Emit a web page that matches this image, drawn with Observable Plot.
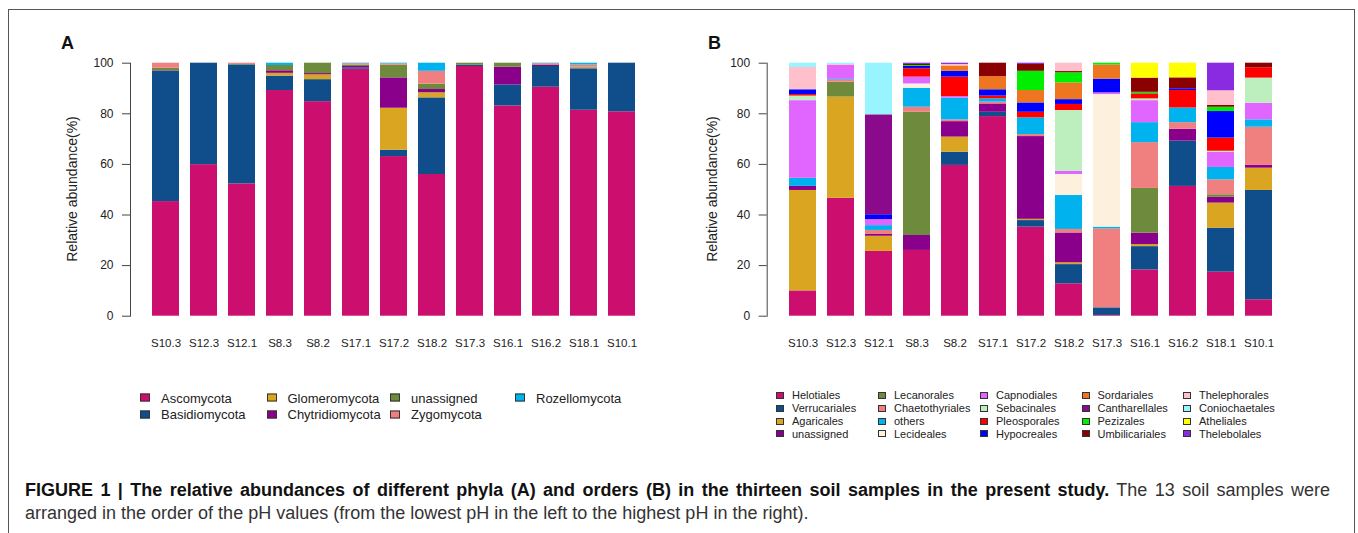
<!DOCTYPE html>
<html><head><meta charset="utf-8">
<script src="https://cdn.jsdelivr.net/npm/d3@7"></script>
<script src="https://cdn.jsdelivr.net/npm/@observablehq/plot@0.6"></script>
<style>
body{margin:0;background:#fff;overflow:hidden;}
#fig{position:relative;width:1358px;height:533px;overflow:hidden;font-family:"Liberation Sans",Arial,sans-serif;color:#222;background:#fff;}
.abs{position:absolute;}
#border{left:8px;top:9px;width:1347px;height:600px;border:1.5px solid #555;box-sizing:border-box;}
.letter{font-weight:bold;font-size:18px;line-height:18px;color:#111;}
.ytitle{font-size:14px;line-height:14px;transform:translate(-50%,-50%) rotate(-90deg);white-space:nowrap;}
.leg{white-space:nowrap;display:flex;align-items:center;transform:translateY(-50%);}
.sw{display:inline-block;border:1px solid #333;box-sizing:border-box;}
.cap{font-size:18px;line-height:18px;white-space:nowrap;left:25px;color:#333;}
.cap b{color:#111;}
.just{width:1305px;text-align:justify;text-align-last:justify;white-space:normal;}
</style></head><body><div id="fig">
<div id="border" class="abs"></div>
<div class="abs letter" style="left:61px;top:34px;">A</div>
<div class="abs letter" style="left:708px;top:34px;">B</div>
<div class="abs ytitle" style="left:72px;top:189px;">Relative abundance(%)</div>
<div class="abs ytitle" style="left:712px;top:189px;">Relative abundance(%)</div>
<div id="pa" class="abs" style="left:0;top:0;"></div>
<div id="pb" class="abs" style="left:640px;top:0;"></div>
<div id="lega"></div>
<div id="legb"></div>
<div class="abs cap just" style="top:481px;"><b>FIGURE 1 | The relative abundances of different phyla (A) and orders (B) in the thirteen soil samples in the present study.</b> The 13 soil samples were</div>
<div class="abs cap" style="top:504px;">arranged in the order of the pH values (from the lowest pH in the left to the highest pH in the right).</div>
</div>
<script>
// ---------- data ----------
const samples = ["S10.3","S12.3","S12.1","S8.3","S8.2","S17.1","S17.2","S18.2","S17.3","S16.1","S16.2","S18.1","S10.1"];
const yTicks = [0, 20, 40, 60, 80, 100];

// Panel A: phyla (%)
const phyla = ["Ascomycota","Basidiomycota","Glomeromycota","Chytridiomycota","unassigned","Zygomycota","Rozellomycota"];
const Ascomycota      = [45.3, 59.9, 52.3, 89.2, 84.8, 97.6, 63.1, 56.0, 98.7, 83.1, 90.5, 81.4, 80.8];
const Basidiomycota   = [51.5, 40.1, 47.0,  5.7,  8.7,  0.6,  2.5, 30.3,  0.5,  8.3,  8.2, 16.4, 19.2];
const Glomeromycota   = [ 0,    0,    0,    1.1,  1.9,  0,   16.6,  2.0,  0,    0,    0,    0.3,  0];
const Chytridiomycota = [ 0.2,  0,    0,    1.0,  0.5,  0.5, 12.0,  1.3,  0,    7.0,  0.5,  0,    0];
const unassignedA     = [ 1.0,  0,    0.2,  2.1,  4.1,  0.6,  5.0,  2.1,  0.8,  1.6,  0.2,  0.3,  0];
const Zygomycota      = [ 2.0,  0,    0.5,  0,    0,    0.5,  0.5,  5.1,  0,    0,    0.4,  0.9,  0];
const Rozellomycota   = [ 0,    0,    0,    0.9,  0,    0.2,  0.3,  3.2,  0,    0,    0.2,  0.7,  0];
const phylaSeries = [Ascomycota, Basidiomycota, Glomeromycota, Chytridiomycota, unassignedA, Zygomycota, Rozellomycota];
const phylaColors = ["#CC0F6E","#104E8B","#DAA520","#8B008B","#6E8B3D","#F08080","#00B2EE"];

// Panel B: orders (%)
const orders = ["Helotiales","Verrucariales","Agaricales","unassigned","Lecanorales","Chaetothyriales","others","Lecideales","Capnodiales","Sebacinales","Pleosporales","Hypocreales","Sordariales","Cantharellales","Pezizales","Umbilicariales","Thelephorales","Coniochaetales","Atheliales","Thelebolales"];
const Helotiales      = [10.0, 46.6, 25.6, 26.0, 59.6, 78.9, 35.2, 12.8,  0.3, 18.3, 51.3, 17.4,  6.5];
const Verrucariales   = [ 0,    0,    0,    0,    5.2,  1.7,  2.6,  7.6,  3.0,  9.2, 17.9, 17.4, 43.2];
const Agaricales      = [39.7, 40.0,  6.0,  0,    6.0,  0,    0.5,  0.7,  0,    0.8,  0,    9.9,  8.8];
const unassignedB     = [ 1.6,  0,    0.7,  5.9,  6.1,  3.3, 32.7, 11.8,  0,    4.5,  4.7,  2.3,  1.1];
const Lecanorales     = [ 0,    5.9,  0,   48.7,  0,    0,    0,    0,    0,   17.7,  0,    1.0,  0];
const Chaetothyriales = [ 0,    0.8,  1.6,  2.0,  0.7,  0.7,  0.8,  1.4, 31.2, 18.1,  2.6,  5.9, 15.1];
const others          = [ 3.2,  0.3,  1.9,  7.5,  8.6,  1.3,  6.6, 13.4,  0.7,  7.9,  5.8,  4.9,  2.9];
const Lecideales      = [ 0,    0,    0,    1.7,  0,    0,    0,    8.3, 52.4,  0,    0,    0,    0];
const Capnodiales     = [30.7,  5.6,  2.4,  2.7,  0.6,  0,    0,    1.3,  0.7,  8.7,  0,    5.9,  6.6];
const Sebacinales     = [ 1.8,  0,    0,    0,    0,    0,    0,   24.0,  0,    0.7,  0,    0.5,  9.9];
const Pleosporales    = [ 0.6,  0,    0,    3.3,  7.7,  1.1,  2.2,  2.4,  0,    2.0,  6.9,  5.2,  4.1];
const Hypocreales     = [ 1.9,  0,    1.9,  0.9,  2.3,  2.5,  3.7,  1.9,  5.4,  0,    0.7, 10.5,  0];
const Sordariales     = [ 0,    0,    0,    0,    2.1,  5.2,  4.9,  6.6,  5.6,  0,    0,    0,    0];
const Cantharellales  = [ 0,    0,   39.5,  0,    0,    0,    0,    0,    0,    0,    0,    0,    0];
const Pezizales       = [ 0,    0,    0,    0.4,  0,    0,    7.6,  4.0,  0.7,  0.6,  0,    1.7,  0];
const Umbilicariales  = [ 0,    0,    0,    0.4,  0,    5.3,  2.7,  0.5,  0,    5.6,  4.3,  0.7,  1.8];
const Thelephorales   = [ 8.8,  0.3,  0,    0,    0.6,  0,    0,    3.3,  0,    0,    0,    5.8,  0];
const Coniochaetales  = [ 1.7,  0.5, 20.4,  0,    0,    0,    0,    0,    0,    0,    0,    0,    0];
const Atheliales      = [ 0,    0,    0,    0,    0,    0,    0,    0,    0,    5.9,  5.8,  0,    0];
const Thelebolales    = [ 0,    0,    0,    0.5,  0.5,  0,    0.5,  0,    0,    0,    0,   10.9,  0];
const orderSeries = [Helotiales, Verrucariales, Agaricales, unassignedB, Lecanorales, Chaetothyriales, others, Lecideales, Capnodiales, Sebacinales, Pleosporales, Hypocreales, Sordariales, Cantharellales, Pezizales, Umbilicariales, Thelephorales, Coniochaetales, Atheliales, Thelebolales];
const orderColors = ["#CC0F6E","#104E8B","#DAA520","#8B008B","#6E8B3D","#F08080","#00B2EE","#FDF0DC","#E066FF","#BDEEBD","#FF0000","#0000FF","#EE7621","#8B0A8B","#00EE00","#8B0000","#FFC0CB","#98F5FF","#FFFF00","#8A2BE2"];

// ---------- drawing ----------
function panel(series, names, colors, o) {
  const data = names.flatMap((n, i) => samples.map((s, j) => ({sample: s, group: n, value: series[i][j]})));
  const H = 370;
  return Plot.plot({
    width: o.width, height: H,
    marginLeft: o.ml, marginRight: 10, marginTop: 62.7, marginBottom: H - 315.7,
    style: {fontFamily: "'Liberation Sans', Arial, sans-serif", fontSize: "12px", color: "#333", background: "transparent", overflow: "visible"},
    x: {domain: samples, range: o.xr, paddingInner: 0.29, paddingOuter: 0, label: null},
    y: {domain: [0, 100], label: null},
    color: {domain: names, range: colors},
    marks: [
      Plot.barY(data, {x: "sample", y: "value", fill: "group", z: "group"}),
      Plot.frame({anchor: "left", stroke: "#444"}),
      Plot.axisY({ticks: yTicks, tickSize: 8, tickPadding: 9, label: null, fontSize: 12, stroke: "#444", fill: "#222"}),
      Plot.axisX({tickSize: 0, tickPadding: 23, label: null, fontSize: 11.5, fill: "#222"})
    ]
  });
}
document.getElementById("pa").append(panel(phylaSeries, phyla, phylaColors, {width: 680, ml: 130, xr: [149.3, 637.7]}));
document.getElementById("pb").append(panel(orderSeries, orders, orderColors, {width: 718, ml: 126.7, xr: [146.7, 635]}));

function legend(containerId, names, colors, o) {
  const c = document.getElementById(containerId);
  names.forEach((n, i) => {
    const col = Math.floor(i / o.rows), row = i % o.rows;
    const d = document.createElement("div");
    d.className = "abs leg";
    d.style.left = o.cols[col] + "px";
    d.style.top = o.rowY[row] + "px";
    d.style.fontSize = o.fs + "px";
    const sw = document.createElement("span");
    sw.className = "sw";
    sw.style.width = o.sw[0] + "px"; sw.style.height = o.sw[1] + "px";
    sw.style.background = colors[i];
    sw.style.marginRight = o.gap + "px";
    d.append(sw, document.createTextNode(n));
    c.append(d);
  });
}
legend("lega", phyla, phylaColors, {rows: 2, cols: [140, 266.5, 390, 515], rowY: [397.5, 414], fs: 13, sw: [10, 8], gap: 11});
legend("legb", orders, orderColors, {rows: 4, cols: [776, 878, 980, 1081.5, 1183], rowY: [395, 408, 421, 433.5], fs: 11, sw: [8, 7], gap: 8});
</script>
</body></html>
